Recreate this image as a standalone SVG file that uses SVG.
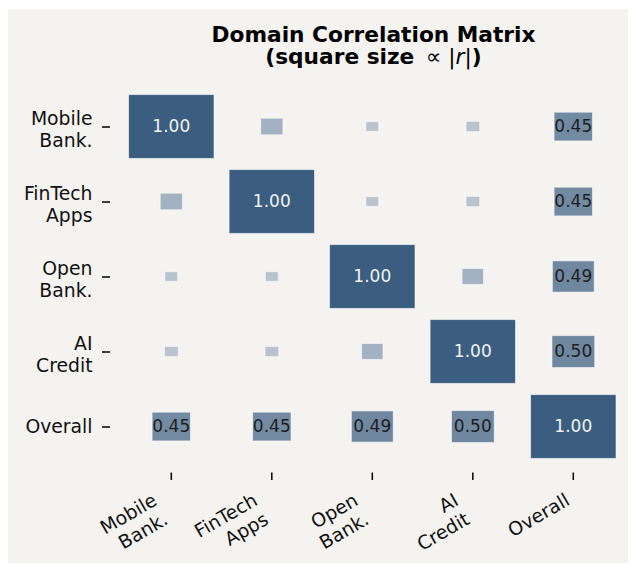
<svg xmlns="http://www.w3.org/2000/svg" width="636" height="566" viewBox="0 0 636 566">
<style>
.bg{fill:#f4f3f0}
.title{font-family:"DejaVu Sans",sans-serif;font-size:21.7px;font-weight:bold;fill:#000}
.m{font-weight:normal}
.lab{font-family:"DejaVu Sans",sans-serif;font-size:18.8px;fill:#111}
.ylab{text-anchor:end}
.xlab{text-anchor:end}
.val{font-family:"DejaVu Sans",sans-serif;font-size:17px;text-anchor:middle}
.vd{fill:#f2f2f2}
.vl{fill:#1e1e1e}
.sq{stroke:#ffffff;stroke-opacity:0.55;stroke-width:1}
.c100{fill:#3b5d80}
.c50{fill:#6f879f}
.c45{fill:#728aa2}
.c25{fill:#a2b2c2}
.c15{fill:#b9c3cd}
.tick{stroke:#111;stroke-width:1.6}
</style>
<rect x="0" y="0" width="636" height="566" fill="#ffffff"/>
<rect class="bg" x="8" y="9" width="620" height="554"/>
<g id="title">
<text class="title" x="373.5" y="41.7" text-anchor="middle">Domain Correlation Matrix</text>
<text class="title" x="373.5" y="64.3" text-anchor="middle">(square size <tspan class="m" dx="4">∝ |</tspan><tspan class="m" font-style="italic">r</tspan><tspan class="m">|</tspan>)</text>
</g>
<g id="axes">
<line class="tick" x1="102" y1="127" x2="110" y2="127"/>
<line class="tick" x1="102" y1="202" x2="110" y2="202"/>
<line class="tick" x1="102" y1="277" x2="110" y2="277"/>
<line class="tick" x1="102" y1="352" x2="110" y2="352"/>
<line class="tick" x1="102" y1="427" x2="110" y2="427"/>
<line class="tick" x1="171.3" y1="472.5" x2="171.3" y2="480"/>
<line class="tick" x1="271.8" y1="472.5" x2="271.8" y2="480"/>
<line class="tick" x1="372.3" y1="472.5" x2="372.3" y2="480"/>
<line class="tick" x1="472.8" y1="472.5" x2="472.8" y2="480"/>
<line class="tick" x1="573.3" y1="472.5" x2="573.3" y2="480"/>
<text class="lab ylab" x="92.5" y="125">Mobile<tspan x="92.5" dy="22">Bank.</tspan></text>
<text class="lab ylab" x="92.5" y="200">FinTech<tspan x="92.5" dy="22">Apps</tspan></text>
<text class="lab ylab" x="92.5" y="275">Open<tspan x="92.5" dy="22">Bank.</tspan></text>
<text class="lab ylab" x="92.5" y="349.8">AI<tspan x="92.5" dy="22">Credit</tspan></text>
<text class="lab ylab" x="92.5" y="433.3">Overall</text>
<g transform="translate(158.3,504) rotate(-30)"><text class="lab xlab" x="0" y="0">Mobile<tspan x="0" dy="22">Bank.</tspan></text></g>
<g transform="translate(258.8,504) rotate(-30)"><text class="lab xlab" x="0" y="0">FinTech<tspan x="0" dy="22">Apps</tspan></text></g>
<g transform="translate(359.3,504) rotate(-30)"><text class="lab xlab" x="0" y="0">Open<tspan x="0" dy="22">Bank.</tspan></text></g>
<g transform="translate(459.8,504) rotate(-30)"><text class="lab xlab" x="0" y="0">AI<tspan x="0" dy="22">Credit</tspan></text></g>
<g transform="translate(571,504) rotate(-30)"><text class="lab xlab" x="0" y="0">Overall</text></g>
</g>
<g id="connectors"></g>
<!-- row 0 -->
<g id="c00"><rect class="sq c100" x="128.6" y="94.6" width="85.4" height="63.8"/><text class="val vd" x="171.3" y="131.7">1.00</text></g>
<g id="c01"><rect class="sq c25" x="260.7" y="118.2" width="22.2" height="16.6"/></g>
<g id="c02"><rect class="sq c15" x="365.9" y="121.7" width="12.8" height="9.6"/></g>
<g id="c03"><rect class="sq c15" x="466" y="121.4" width="13.7" height="10.2"/></g>
<g id="c04"><rect class="sq c45" x="554.1" y="112.2" width="38.4" height="28.7"/><text class="val vl" x="573.3" y="131.7">0.45</text></g>
<!-- row 1 -->
<g id="c10"><rect class="sq c25" x="160.2" y="193.2" width="22.2" height="16.6"/></g>
<g id="c11"><rect class="sq c100" x="229.1" y="169.6" width="85.4" height="63.8"/><text class="val vd" x="271.8" y="206.7">1.00</text></g>
<g id="c12"><rect class="sq c15" x="365.9" y="196.7" width="12.8" height="9.6"/></g>
<g id="c13"><rect class="sq c15" x="466" y="196.4" width="13.7" height="10.2"/></g>
<g id="c14"><rect class="sq c45" x="554.1" y="187.2" width="38.4" height="28.7"/><text class="val vl" x="573.3" y="206.7">0.45</text></g>
<!-- row 2 -->
<g id="c20"><rect class="sq c15" x="164.9" y="271.7" width="12.8" height="9.6"/></g>
<g id="c21"><rect class="sq c15" x="265.4" y="271.7" width="12.8" height="9.6"/></g>
<g id="c22"><rect class="sq c100" x="329.6" y="244.6" width="85.4" height="63.8"/><text class="val vd" x="372.3" y="281.7">1.00</text></g>
<g id="c23"><rect class="sq c25" x="462.1" y="268.5" width="21.4" height="15.9"/></g>
<g id="c24"><rect class="sq c50" x="552.4" y="260.9" width="41.8" height="31.2"/><text class="val vl" x="573.3" y="281.7">0.49</text></g>
<!-- row 3 -->
<g id="c30"><rect class="sq c15" x="164.5" y="346.4" width="13.7" height="10.2"/></g>
<g id="c31"><rect class="sq c15" x="265" y="346.4" width="13.7" height="10.2"/></g>
<g id="c32"><rect class="sq c25" x="361.6" y="343.5" width="21.4" height="15.9"/></g>
<g id="c33"><rect class="sq c100" x="430.1" y="319.6" width="85.4" height="63.8"/><text class="val vd" x="472.8" y="356.7">1.00</text></g>
<g id="c34"><rect class="sq c50" x="552" y="335.6" width="42.7" height="31.9"/><text class="val vl" x="573.3" y="356.7">0.50</text></g>
<!-- row 4 -->
<g id="c40"><rect class="sq c45" x="152.1" y="412.2" width="38.4" height="28.7"/><text class="val vl" x="171.3" y="431.7">0.45</text></g>
<g id="c41"><rect class="sq c45" x="252.6" y="412.2" width="38.4" height="28.7"/><text class="val vl" x="271.8" y="431.7">0.45</text></g>
<g id="c42"><rect class="sq c50" x="351.4" y="410.9" width="41.8" height="31.2"/><text class="val vl" x="372.3" y="431.7">0.49</text></g>
<g id="c43"><rect class="sq c50" x="451.5" y="410.6" width="42.7" height="31.9"/><text class="val vl" x="472.8" y="431.7">0.50</text></g>
<g id="c44"><rect class="sq c100" x="530.6" y="394.6" width="85.4" height="63.8"/><text class="val vd" x="573.3" y="431.7">1.00</text></g>
</svg>
